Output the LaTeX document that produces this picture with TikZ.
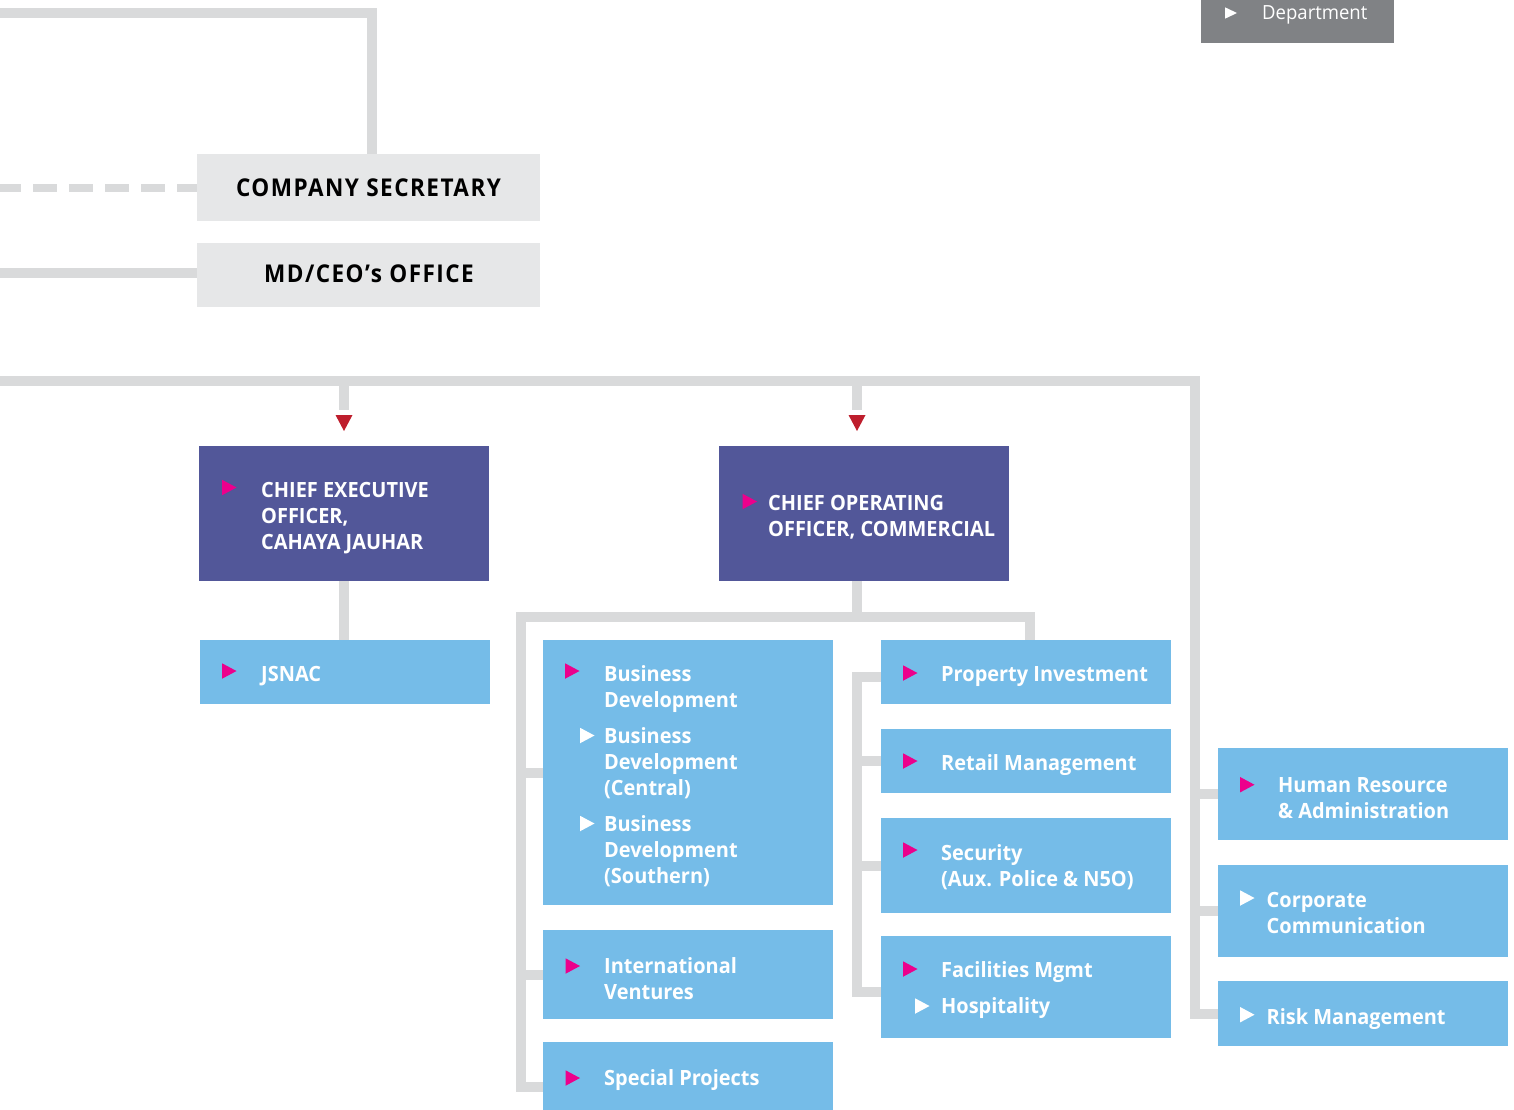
\documentclass[tikz,border=0pt]{standalone}
\usepackage{fontspec}
\setmainfont[FakeStretch=0.95]{Open Sans}
\newfontfamily\headfont[FakeStretch=0.92,LetterSpace=6]{Open Sans}
\usetikzlibrary{backgrounds}
\definecolor{linegray}{HTML}{D9DADB}
\definecolor{boxgray}{HTML}{E6E7E8}
\definecolor{purplebox}{HTML}{525799}
\definecolor{bluebox}{HTML}{75BCE8}
\definecolor{mag}{HTML}{EC008C}
\definecolor{redtri}{HTML}{BE1E2D}
\definecolor{deptgray}{HTML}{808285}
\begin{document}
\begin{tikzpicture}[x=1pt,y=-1pt,
  conn/.style={draw=linegray, line width=10pt},
  boxbase/.style={anchor=north west, inner sep=0pt, outer sep=0pt},
  bluebx/.style={boxbase, fill=bluebox, minimum width=290pt},
  purplebx/.style={boxbase, fill=purplebox, minimum width=290pt, minimum height=135pt},
  graybx/.style={boxbase, fill=boxgray, minimum width=343pt},
  lbl/.style={anchor=base west, inner sep=0pt, align=left, text=white, font=\fontsize{21}{26}\selectfont\bfseries},
  hdl/.style={anchor=base, inner sep=0pt, text=black, font=\fontsize{24.5}{28}\headfont\bfseries},
  mtri/.pic={\fill[mag] (0,-7.75) -- (14.5,0) -- (0,7.75) -- cycle;},
  wtri/.pic={\fill[white] (0,-7.75) -- (14.5,0) -- (0,7.75) -- cycle;},
]
\useasboundingbox (0,0) rectangle (1514,1109);
\clip (0,0) rectangle (1514,1109);

% boxes
\node[graybx, minimum height=67pt] (cosec) at (197,154) {};
\node[graybx, minimum height=64pt] (mdceo) at (197,243) {};
\node[boxbase, fill=deptgray, minimum width=193pt, minimum height=50pt] (dept) at (1201,-6.7) {};
\node[purplebx] (ceo) at (199,446) {};
\node[purplebx] (coo) at (719,446) {};
\node[bluebx, minimum height=64pt] (jsnac) at (200,640) {};
\node[bluebx, minimum height=265pt] (bd) at (543,640) {};
\node[bluebx, minimum height=89pt] (intl) at (543,930) {};
\node[bluebx, minimum height=90pt] (sp) at (543,1042) {};
\node[bluebx, minimum height=64pt] (prop) at (881,640) {};
\node[bluebx, minimum height=64pt] (retail) at (881,729) {};
\node[bluebx, minimum height=95pt] (sec) at (881,818) {};
\node[bluebx, minimum height=102pt] (fac) at (881,936) {};
\node[bluebx, minimum height=92pt] (hr) at (1218,748) {};
\node[bluebx, minimum height=92pt] (cc) at (1218,865) {};
\node[bluebx, minimum height=65pt] (risk) at (1218,981) {};

% coordinates
\coordinate (tl) at (0,13);
\coordinate (dl) at (0,187.5);
\coordinate (ml) at (0,273);
\coordinate (m0) at (0,381);
\coordinate (mr) at (1195,381);
\coordinate (cootop) at ([xshift=-7pt]coo.north);
\coordinate (coobot) at ([xshift=-7pt]coo.south);
\coordinate (lv) at (521,617);
\coordinate (st) at (857,677);
\coordinate (sb) at (857,992);

% connectors
\begin{scope}[on background layer]
\draw[conn] (tl) -| ([xshift=3pt]cosec.north);
\draw[conn, line width=8pt, dash pattern=on 24pt off 12pt, dash phase=3pt] (dl) -- (cosec.west);
\draw[conn] (ml) -- (ml -| mdceo.west);
\draw[conn] (m0) -- (mr) |- (risk.west);
\draw[conn] (mr |- hr.west) -- (hr.west);
\draw[conn] (mr |- cc.west) -- (cc.west);
\draw[conn] (ceo.north |- m0) -- ([yshift=36pt]ceo.north);
\draw[conn] (cootop |- m0) -- ([yshift=36pt]cootop);
\draw[conn] (ceo.south) -- (ceo.south |- jsnac.north);
\draw[conn] (coobot) -- (coobot |- lv);
\draw[conn] ([xshift=3.5pt]prop.north) |- (lv) |- (sp.west);
\draw[conn] (lv |- bd.west) -- (bd.west);
\draw[conn] (lv |- intl.west) -- (intl.west);
\draw[conn] (st -| prop.west) -- (st) -- (sb) -- (sb -| fac.west);
\draw[conn] (retail.west) -- (retail.west -| st);
\draw[conn] (sec.west) -- (sec.west -| st);
\end{scope}

% red arrowheads
\fill[redtri] ([xshift=-8.5pt,yshift=31pt]ceo.north) -- ++(17,0) -- ++(-8.5,16) -- cycle;
\fill[redtri] ([xshift=-8.5pt,yshift=31pt]cootop) -- ++(17,0) -- ++(-8.5,16) -- cycle;

% headings
\node[hdl] (cosect) at (368.5,196) {COMPANY SECRETARY};
\node[hdl] (mdceot) at (369,282.7) {MD/CEO’s OFFICE};

% department
\fill[white] (1225,7.3) -- (1237,13) -- (1225,18.7) -- cycle;
\node[anchor=base west, inner sep=0pt, text=white, font=\fontsize{19.5}{24}\selectfont] (deptt) at (1262,19) {Department};

% labels (base anchor = baseline of last line)
\pic at (222,487.5) {mtri};
\node[lbl] (ceot) at (261,549) {CHIEF EXECUTIVE\\OFFICER,\\CAHAYA JAUHAR};
\pic at (742.5,501.5) {mtri};
\node[lbl] (coot) at (768,536) {CHIEF OPERATING\\OFFICER, COMMERCIAL};
\pic at (222,671) {mtri};
\node[lbl] (jsnact) at (261,681) {JSNAC};

\pic at (565,671) {mtri};
\node[lbl] (bdt) at (604,707) {Business\\Development};
\pic at (580,735.5) {wtri};
\node[lbl] (bdct) at (604,795) {Business\\Development\\(Central)};
\pic at (580,823.5) {wtri};
\node[lbl] (bdst) at (604,883) {Business\\Development\\(Southern)};
\pic at (565.5,966) {mtri};
\node[lbl] (intlt) at (604,999) {International\\Ventures};
\pic at (565.5,1078) {mtri};
\node[lbl] (spt) at (604,1085) {Special Projects};

\pic at (903,673) {mtri};
\node[lbl] (propt) at (941,681) {Property Investment};
\pic at (903,761) {mtri};
\node[lbl] (retailt) at (941,770.5) {Retail Management};
\pic at (903,850) {mtri};
\node[lbl] (sect) at (941,886) {Security\\(Aux. Police \& N5O)};
\pic at (903,969) {mtri};
\node[lbl] (fact) at (941,977.5) {Facilities Mgmt};
\pic at (915,1006) {wtri};
\node[lbl] (hospt) at (941,1013) {Hospitality};

\pic at (1240,784.7) {mtri};
\node[lbl] (hrt) at (1278,818) {Human Resource\\\& Administration};
\pic at (1240,898) {wtri};
\node[lbl] (cct) at (1266.5,933) {Corporate\\Communication};
\pic at (1240,1014.7) {wtri};
\node[lbl] (riskt) at (1266.5,1024) {Risk Management};
\end{tikzpicture}
\end{document}
